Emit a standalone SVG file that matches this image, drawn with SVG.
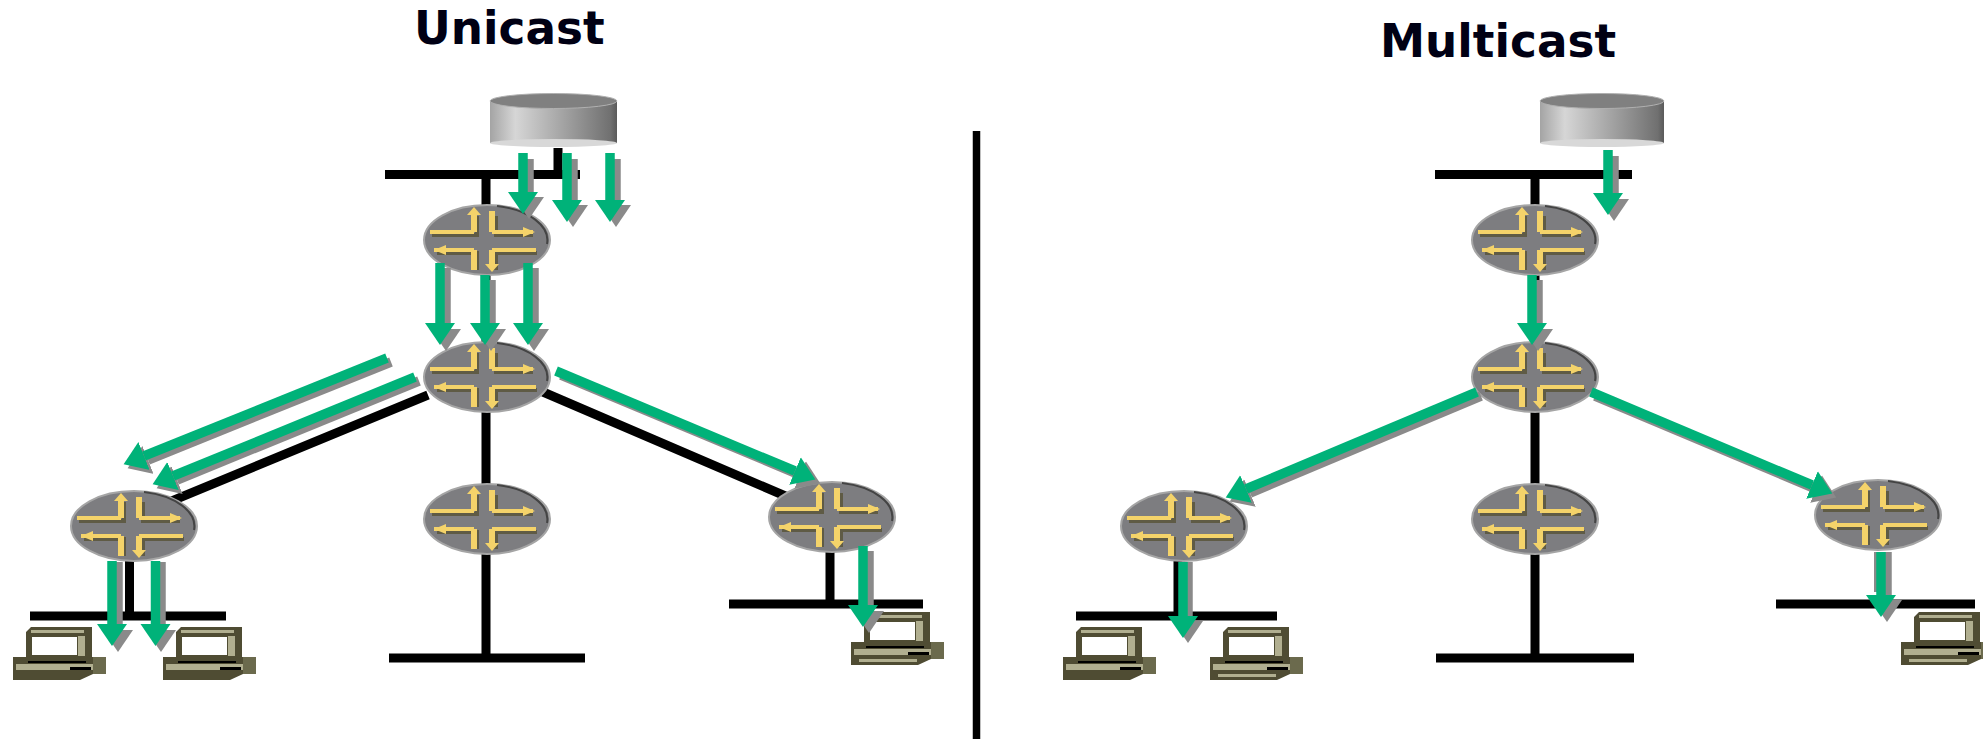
<svg xmlns="http://www.w3.org/2000/svg" width="1983" height="739" viewBox="0 0 1983 739">
<style>
.t{font-family:"DejaVu Sans",sans-serif;font-weight:bold;font-size:45.3px;fill:#000014}
.k{stroke:#000;fill:none}
.b{stroke-width:9}
.a{stroke:#00b279;stroke-width:9.5;fill:none;marker-end:url(#hg)}
.s{stroke:#8a8a8a;stroke-width:9.5;fill:none;marker-end:url(#hs)}
.y{stroke:#f4d36a;fill:none}
.yd{stroke:#5f5b45;fill:none}
.lo{fill:#4f4c33}
.li{fill:#b1af90}
</style>
<defs>
<linearGradient id="dg" x1="0" x2="1" y1="0" y2="0">
<stop offset="0" stop-color="#a4a4a4"/><stop offset=".2" stop-color="#d6d6d6"/><stop offset=".6" stop-color="#a0a0a0"/><stop offset=".95" stop-color="#707070"/><stop offset="1" stop-color="#5a5a5a"/>
</linearGradient>
<marker id="hg" markerUnits="userSpaceOnUse" markerWidth="24" markerHeight="32" refX="0" refY="15" orient="auto"><path d="M0 0L22 15L0 30Z" fill="#00b279"/></marker>
<marker id="hs" markerUnits="userSpaceOnUse" markerWidth="24" markerHeight="32" refX="0" refY="15" orient="auto"><path d="M0 0L22 15L0 30Z" fill="#8a8a8a"/></marker>
<g id="router">
<ellipse cx="0" cy="0" rx="63" ry="35" fill="#7d7d80" stroke="#a5a5a5" stroke-width="2"/>
<path d="M10 -34A63 35 0 0 1 60 4" fill="none" stroke="#444" stroke-width="2"/>
<g class="yd" stroke-width="4"><path d="M-55 -5H-10V-24M9 -24V-5H46M-50 13H-10V30M9 30V13H50"/></g>
<g class="y" stroke-width="4"><path d="M-57 -8H-13M5 -8H46M-53 10H-13M5 10H49"/></g>
<g class="y" stroke-width="6"><path d="M-13 -8V-26M5 -8V-29M-13 10V30M5 10V26"/></g>
<path d="M-13 -33l-7 8h14zM48 -8l-12 -5v10zM-53 10l12 -5v10zM5 32l-7 -8h14z" fill="#f4d36a"/>
</g>
<g id="laptop">
<path class="lo" d="M18 0H79V30H93V47H80L67 53H0V30H13V5Z"/>
<rect x="80" y="30" width="13" height="17" fill="#6b6a4d"/>
<path class="li" d="M18 3H71V6H18ZM65 9H72V29H65ZM3 37H80V43H3Z"/>
<rect x="19" y="10" width="45" height="18" fill="#fff"/>
<path fill="#000" d="M15 34H73V36H15ZM57 40H78V43H57Z"/>
</g>
<g id="laptop2">
<use href="#laptop"/>
<rect x="8" y="47" width="58" height="3" fill="#b1af90"/>
</g>
</defs>
<rect width="1983" height="739" fill="#fff"/>
<text class="t" x="414" y="44">Unicast</text>
<text class="t" x="1380" y="57">Multicast</text>
<g id="connectors">
<path class="k" stroke-width="7.5" d="M976.5 131V739"/>
<g class="k b">
<path d="M385 174.5H580M558 148V174.5M486 174.5V210M486 270V660M389 658H585M428 395L150 510M543 392L790 498M129.5 560V616M30 616H226M830 550V604M729 604H923"/>
<path d="M1435 174.5H1632M1535 174.5V210M1535 270V660M1436 658H1634M1076 616H1277M1178 560V616M1776 604H1975"/>
</g>
<path stroke="#8a8a8a" stroke-width="4" fill="none" d="M1876 552V592"/>
</g>
<g id="server-u"><rect x="490" y="100" width="127" height="43" fill="url(#dg)"/><ellipse cx="553.5" cy="143" rx="63.5" ry="4" fill="#d8d8d8"/><ellipse cx="553.5" cy="101" rx="63.5" ry="7.5" fill="#808080" stroke="#b0b0b0"/></g>
<g id="server-m"><rect x="1540" y="100" width="124" height="43" fill="url(#dg)"/><ellipse cx="1602" cy="143" rx="62" ry="4" fill="#d8d8d8"/><ellipse cx="1602" cy="101" rx="62" ry="7.5" fill="#808080" stroke="#b0b0b0"/></g>
<use id="u-r1" href="#router" x="487" y="240"/>
<use id="u-r2" href="#router" x="487" y="377"/>
<use id="u-r3" href="#router" x="134" y="526"/>
<use id="u-r4" href="#router" x="487" y="519"/>
<use id="u-r5" href="#router" x="832" y="517"/>
<use id="m-r1" href="#router" x="1535" y="240"/>
<use id="m-r2" href="#router" x="1535" y="377"/>
<use id="m-r3" href="#router" x="1184" y="526"/>
<use id="m-r4" href="#router" x="1535" y="519"/>
<use id="m-r5" href="#router" x="1878" y="515"/>
<use id="u-l1" href="#laptop" x="13" y="627"/>
<use id="u-l2" href="#laptop" x="163" y="627"/>
<use id="u-l3" href="#laptop2" x="851" y="612"/>
<use id="m-l1" href="#laptop" x="1063" y="627"/>
<use id="m-l2" href="#laptop2" x="1210" y="627"/>
<use id="m-l3" href="#laptop2" x="1901" y="612"/>
<g id="arrow-shadows">
<line class="s" x1="529" y1="159" x2="529" y2="197"/><line class="s" x1="573" y1="159" x2="573" y2="205"/><line class="s" x1="616" y1="159" x2="616" y2="205"/>
<line class="s" x1="446" y1="268" x2="446" y2="329"/><line class="s" x1="491" y1="280" x2="491" y2="329"/><line class="s" x1="534" y1="268" x2="534" y2="329"/>
<line class="s" x1="391" y1="362" x2="148" y2="460"/><line class="s" x1="419" y1="381" x2="177" y2="480"/><line class="s" x1="561" y1="375" x2="800" y2="475"/>
<line class="s" x1="118" y1="562" x2="118" y2="630"/><line class="s" x1="161" y1="562" x2="161" y2="630"/><line class="s" x1="869" y1="551" x2="869" y2="611"/>
<line class="s" x1="1614" y1="156" x2="1614" y2="199"/><line class="s" x1="1538" y1="280" x2="1538" y2="329"/><line class="s" x1="1481" y1="396" x2="1250" y2="493"/><line class="s" x1="1595" y1="396" x2="1816" y2="489"/>
<line class="s" x1="1188" y1="562" x2="1188" y2="621"/><line class="s" x1="1887" y1="552" x2="1887" y2="600"/>
</g>
<g id="arrows">
<line class="a" x1="523" y1="153" x2="523" y2="192"/><line class="a" x1="567" y1="153" x2="567" y2="200"/><line class="a" x1="610" y1="153" x2="610" y2="200"/>
<line class="a" x1="440" y1="263" x2="440" y2="323"/><line class="a" x1="485" y1="275" x2="485" y2="323"/><line class="a" x1="528" y1="263" x2="528" y2="323"/>
<line class="a" x1="387" y1="358" x2="144" y2="456"/><line class="a" x1="415" y1="377" x2="173" y2="476"/><line class="a" x1="556" y1="371" x2="795" y2="471"/>
<line class="a" x1="112" y1="561" x2="112" y2="624"/><line class="a" x1="155.5" y1="561" x2="155.5" y2="624"/><line class="a" x1="863" y1="546" x2="863" y2="605"/>
<line class="a" x1="1608" y1="150" x2="1608" y2="193"/><line class="a" x1="1532" y1="275" x2="1532" y2="323"/><line class="a" x1="1477" y1="392" x2="1246" y2="489"/><line class="a" x1="1591" y1="392" x2="1812" y2="485"/>
<line class="a" x1="1183" y1="562" x2="1183" y2="616"/><line class="a" x1="1881" y1="552" x2="1881" y2="595"/>
</g>
</svg>
